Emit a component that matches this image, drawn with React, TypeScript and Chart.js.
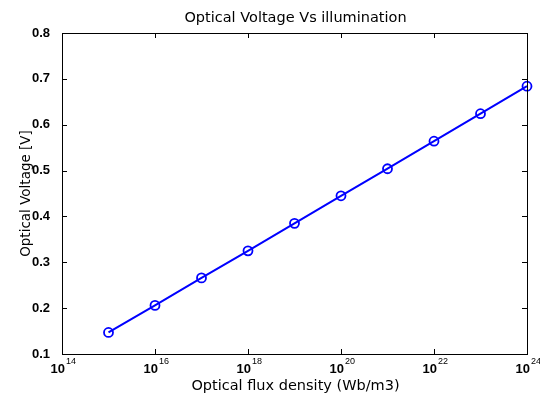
import { useEffect, useRef } from "react";
import { Chart, registerables } from "chart.js";

Chart.register(...registerables);

const fluxDensity = [1e15, 1e16, 1e17, 1e18, 1e19, 1e20, 1e21, 1e22, 1e23, 1e24];
const opticalVoltage = [0.147, 0.206, 0.266, 0.325, 0.385, 0.445, 0.504, 0.564, 0.624, 0.684];
const xTickValues = [1e14, 1e16, 1e18, 1e20, 1e22, 1e24];
const yTickValues = [0.1, 0.2, 0.3, 0.4, 0.5, 0.6, 0.7, 0.8];

const chartTitle = "Optical Voltage Vs illumination";
const xTitle = "Optical flux density (Wb/m3)";
const yTitle = "Optical Voltage [V]";

const TITLE_FONT = "14.5px 'DejaVu Sans', Verdana, sans-serif";
const YTITLE_FONT = "13.5px 'DejaVu Sans', Verdana, sans-serif";
const TICK_FONT = "bold 13px 'Liberation Sans', Arial, sans-serif";

const framePlugin = {
  id: "matlabFrame",
  afterDraw(chart: any) {
    const { ctx, chartArea } = chart;
    const xs = chart.scales.x;
    const ys = chart.scales.y;
    const { left, right, top, bottom } = chartArea;
    ctx.save();
    ctx.strokeStyle = "#000";
    ctx.lineWidth = 1;
    ctx.strokeRect(Math.round(left) + 0.5, Math.round(top) + 0.5, Math.round(right - left), Math.round(bottom - top));
    ctx.beginPath();
    const tl = 5;
    xTickValues.forEach((v) => {
      const px = Math.round(xs.getPixelForValue(v)) + 0.5;
      ctx.moveTo(px, bottom);
      ctx.lineTo(px, bottom - tl);
      ctx.moveTo(px, top);
      ctx.lineTo(px, top + tl);
    });
    yTickValues.forEach((v) => {
      const py = Math.round(ys.getPixelForValue(v)) + 0.5;
      ctx.moveTo(left, py);
      ctx.lineTo(left + tl, py);
      ctx.moveTo(right, py);
      ctx.lineTo(right - tl, py);
    });
    ctx.stroke();

    // x tick labels as 10^n
    ctx.fillStyle = "#000";
    xTickValues.forEach((v) => {
      const px = xs.getPixelForValue(v);
      const exp = Math.round(Math.log10(v));
      ctx.font = TICK_FONT;
      ctx.textAlign = "right";
      ctx.textBaseline = "alphabetic";
      ctx.fillText("10", px + 3, bottom + 19);
      ctx.font = "9px 'Liberation Sans', Arial, sans-serif";
      ctx.textAlign = "left";
      ctx.fillText(String(exp), px + 4, bottom + 10);
    });

    // titles
    ctx.font = TITLE_FONT;
    ctx.textAlign = "center";
    ctx.textBaseline = "middle";
    const cx = (left + right) / 2;
    ctx.fillText(chartTitle, cx + 1, 18);
    ctx.fillText(xTitle, cx + 1, 386);
    ctx.font = YTITLE_FONT;
    ctx.translate(26, (top + bottom) / 2);
    ctx.rotate(-Math.PI / 2);
    ctx.fillText(yTitle, 0, 0);
    ctx.restore();
  },
};

export default function App() {
  const canvasRef = useRef<HTMLCanvasElement | null>(null);

  useEffect(() => {
    document.body.style.margin = "0";
    const canvas = canvasRef.current;
    if (!canvas) return;
    const points = fluxDensity.map((x, i) => ({ x, y: opticalVoltage[i] }));
    const chart = new Chart(canvas, {
      type: "line",
      data: {
        datasets: [
          {
            data: points,
            borderColor: "#0000ff",
            borderWidth: 2,
            pointRadius: 4.5,
            pointStyle: "circle",
            pointBackgroundColor: "rgba(0,0,0,0)",
            pointBorderColor: "#0000ff",
            pointBorderWidth: 1.8,
            tension: 0,
            clip: false as any,
          },
        ],
      },
      options: {
        responsive: false,
        animation: false,
        devicePixelRatio: 1,
        layout: { padding: { top: 33, right: 13, left: 0, bottom: 0 } },
        plugins: {
          legend: { display: false },
          tooltip: { enabled: false },
          title: { display: false },
        },
        scales: {
          x: {
            type: "logarithmic",
            min: 1e14,
            max: 1e24,
            grid: { display: false },
            border: { display: false },
            ticks: { display: false },
            afterBuildTicks: (scale: any) => {
              scale.ticks = xTickValues.map((value) => ({ value }));
            },
            afterFit: (scale: any) => {
              scale.height = 40;
            },
          },
          y: {
            type: "linear",
            min: 0.1,
            max: 0.8,
            grid: { display: false },
            border: { display: false },
            afterBuildTicks: (scale: any) => {
              scale.ticks = yTickValues.map((value) => ({ value }));
            },
            ticks: {
              color: "#000",
              padding: 4,
              font: { family: "'Liberation Sans', Arial, sans-serif", size: 13, weight: "bold" },
              callback: (v: any) => Number(v).toFixed(1),
            },
            afterFit: (scale: any) => {
              scale.width = 62;
            },
          },
        },
      },
      plugins: [framePlugin],
    });
    return () => chart.destroy();
  }, []);

  return (
    <div style={{ width: 540, height: 394, background: "#fff" }}>
      <canvas ref={canvasRef} width={540} height={394} style={{ display: "block" }} />
    </div>
  );
}
